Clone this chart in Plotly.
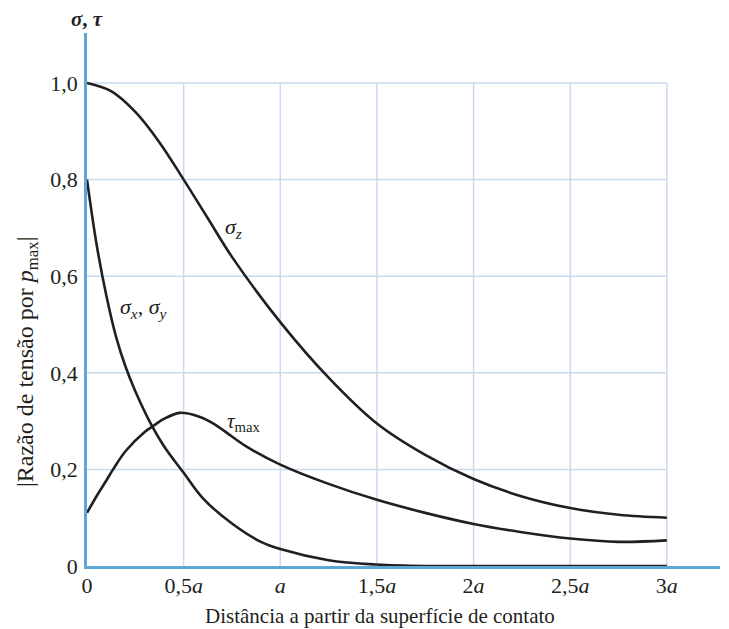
import plotly.graph_objects as go

# x positions in units of a
sz_x = [0, 0.125, 0.25, 0.375, 0.5, 0.625, 0.75, 1.0, 1.25, 1.5, 1.75, 2.0, 2.25, 2.5, 2.75, 3.0]
sz_y = [1.0, 0.983, 0.94, 0.877, 0.80, 0.72, 0.64, 0.505, 0.39, 0.295, 0.23, 0.18, 0.144, 0.12, 0.106, 0.10]

sx_x = [0, 0.05, 0.1, 0.15, 0.2, 0.25, 0.336, 0.4, 0.5, 0.6, 0.75, 0.9, 1.0, 1.25, 1.5, 1.75, 2.0, 2.5, 3.0]
sx_y = [0.80, 0.665, 0.56, 0.475, 0.412, 0.362, 0.29, 0.247, 0.193, 0.14, 0.088, 0.05, 0.035, 0.012, 0.003, 0.0, 0.0, 0.0, 0.0]

tau_x = [0, 0.05, 0.1, 0.135, 0.2, 0.3, 0.336, 0.4, 0.48, 0.55, 0.65, 0.75, 0.83, 1.0, 1.25, 1.5, 1.75, 2.0, 2.25, 2.5, 2.75, 3.0]
tau_y = [0.11, 0.145, 0.177, 0.20, 0.238, 0.278, 0.288, 0.305, 0.317, 0.313, 0.296, 0.268, 0.246, 0.21, 0.17, 0.137, 0.11, 0.087, 0.07, 0.057, 0.05, 0.053]

x_tickvals = [0, 0.5, 1.0, 1.5, 2.0, 2.5, 3.0]
x_ticktext = ["0", "0,5<i>a</i>", "<i>a</i>", "1,5<i>a</i>", "2<i>a</i>", "2,5<i>a</i>", "3<i>a</i>"]
y_tickvals = [0, 0.2, 0.4, 0.6, 0.8, 1.0]
y_ticktext = ["0", "0,2", "0,4", "0,6", "0,8", "1,0"]

FONT = "Times New Roman, Liberation Serif, DejaVu Serif, serif"
TXT = "#231f20"
CURVE = "#231f20"
AXIS = "#5ea6d6"
GRID = "#c8daf0"

fig = go.Figure()
for xs, ys in [(sz_x, sz_y), (sx_x, sx_y), (tau_x, tau_y)]:
    fig.add_trace(go.Scatter(x=xs, y=ys, mode="lines", line=dict(color=CURVE, width=2.6, shape="spline", smoothing=1.0),
                             hoverinfo="skip", showlegend=False, cliponaxis=False))

shapes = []
for xv in x_tickvals[1:]:
    shapes.append(dict(type="line", xref="x", yref="y", x0=xv, x1=xv, y0=0, y1=max(y_tickvals),
                       line=dict(color=GRID, width=1.5), layer="below"))
for yv in y_tickvals[1:]:
    shapes.append(dict(type="line", xref="x", yref="y", x0=0, x1=max(x_tickvals), y0=yv, y1=yv,
                       line=dict(color=GRID, width=1.5), layer="below"))

L, R, T, B = 87, 9, 33, 63
W, H = 729, 629
pw, ph = W - L - R, H - T - B
def px(xp, yp):
    return (xp - L) / pw, (H - B - yp) / ph

def note(xp, yp, text, size, angle=0):
    ax_, ay_ = px(xp, yp)
    return dict(x=ax_, y=ay_, xref="paper", yref="paper", text=text, textangle=angle,
                xanchor="center", yanchor="middle", showarrow=False,
                font=dict(family=FONT, size=size, color=TXT))

ann = [
    note(380, 616, "Distância a partir da superfície de contato", 21),
    note(27, 362, "|Razão de tensão por <i>p</i><sub>max</sub>|", 24, -90),
    note(87, 19, "<i><b>σ</b></i><b>, </b><i><b>τ</b></i>", 21),
]
for x, y, t, s in [(0.76, 0.70, "<i>σ<sub>z</sub></i>", 22),
                   (0.29, 0.534, "<i>σ<sub>x</sub></i>, <i>σ<sub>y</sub></i>", 22),
                   (0.81, 0.298, "<i>τ</i><sub>max</sub>", 21)]:
    ann.append(dict(x=x, y=y, xref="x", yref="y", text=t, showarrow=False, xanchor="center", yanchor="middle",
                    font=dict(family=FONT, size=s, color=TXT)))

fig.update_layout(
    width=W, height=H, margin=dict(l=L, r=R, t=T, b=B),
    paper_bgcolor="white", plot_bgcolor="white",
    shapes=shapes, annotations=ann,
    xaxis=dict(range=[0, 3.275], tickvals=x_tickvals, ticktext=x_ticktext, showgrid=False, zeroline=False,
               showline=True, linecolor=AXIS, linewidth=2.5, ticks="", ticklabelstandoff=-2,
               tickfont=dict(family=FONT, size=22, color=TXT)),
    yaxis=dict(range=[0, 1.1035], tickvals=y_tickvals, ticktext=y_ticktext, showgrid=False, zeroline=False,
               showline=True, linecolor=AXIS, linewidth=2.5, ticks="", ticklabelstandoff=2,
               tickfont=dict(family=FONT, size=22, color=TXT)),
)
fig.write_html("out.html")
